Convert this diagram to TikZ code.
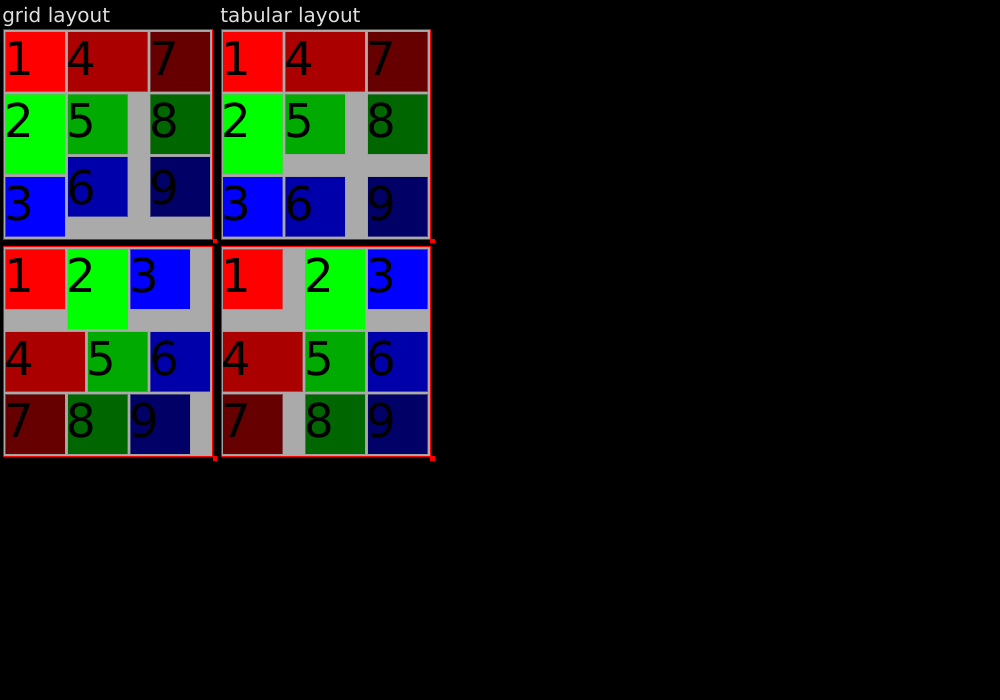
\documentclass[tikz,border=0pt]{standalone}
\usepackage{fontspec}
\setmainfont{DejaVu Sans}
\definecolor{cA}{HTML}{FF0000}
\definecolor{cB}{HTML}{00FF00}
\definecolor{cC}{HTML}{0000FF}
\definecolor{cD}{HTML}{AA0000}
\definecolor{cE}{HTML}{00AA00}
\definecolor{cF}{HTML}{0000AA}
\definecolor{cG}{HTML}{660000}
\definecolor{cH}{HTML}{006600}
\definecolor{cI}{HTML}{000066}
\definecolor{panelgray}{HTML}{AAAAAA}
\definecolor{titlegray}{HTML}{E0E0E0}
\newcommand\mkcell[8]{%
  \path[cellbox, fill=#6] (#2,#3) rectangle (#4,#5);
  \node[digit] (#1) at ({#2-1},{#3+43.6+#8}) {#7};}
\begin{document}
\begin{tikzpicture}[x=0.75pt,y=-0.75pt,
  cellbox/.style={draw=black!40, draw opacity=0.45, line width=0.75pt},
  digit/.style={anchor=base west, inner sep=0pt, font=\fontsize{35}{40}\selectfont, text=black},
  paneltitle/.style={anchor=base west, inner sep=0pt, font=\fontsize{15}{18}\selectfont, text=titlegray},
  panel/.style={draw=red, fill=panelgray, line width=0.75pt},
  handle/.style={fill=red}]
\fill[black] (0,0) rectangle (1000,700);
\useasboundingbox (0,0) rectangle (1000,700);

\node[paneltitle] (t1) at (2,22.5) {grid layout};
\node[paneltitle] (t2) at (220,22.5) {tabular layout};

% panels
\path[panel] (3.5,29.5) rectangle (212,239);
\path[panel] (221,29.5) rectangle (430,239);
\path[panel] (3.5,246.5) rectangle (212,456.5);
\path[panel] (221,246.5) rectangle (430,456.5);

\path[handle] (212.5,238.5) rectangle (217,243);
\path[handle] (430,238.5) rectangle (434.5,243);
\path[handle] (212.5,456) rectangle (217,461);
\path[handle] (430,456) rectangle (434.5,461);

% panel 1: grid layout
\mkcell{a1}{5}{31.5}{65}{91.5}{cA}{1}{0}
\mkcell{a4}{67.5}{31.5}{147.5}{91.5}{cD}{4}{0}
\mkcell{a7}{150}{31.5}{210}{91.5}{cG}{7}{0}
\mkcell{a2}{5}{94}{65}{174}{cB}{2}{0}
\mkcell{a3}{5}{176.5}{65}{236.5}{cC}{3}{0}
\mkcell{a5}{67.5}{94}{127.5}{154}{cE}{5}{0}
\mkcell{a6}{67.5}{156.5}{127.5}{216.5}{cF}{6}{4.5}
\mkcell{a8}{150}{94}{210}{154}{cH}{8}{0}
\mkcell{a9}{150}{156.5}{210}{216.5}{cI}{9}{4.5}

% panel 2: tabular layout
\mkcell{b1}{222.5}{31.5}{282.5}{91.5}{cA}{1}{0}
\mkcell{b4}{285}{31.5}{365}{91.5}{cD}{4}{0}
\mkcell{b7}{367.5}{31.5}{427.5}{91.5}{cG}{7}{0}
\mkcell{b2}{222.5}{94}{282.5}{174}{cB}{2}{0}
\mkcell{b5}{285}{94}{345}{154}{cE}{5}{0}
\mkcell{b8}{367.5}{94}{427.5}{154}{cH}{8}{0}
\mkcell{b3}{222.5}{176.5}{282.5}{236.5}{cC}{3}{0}
\mkcell{b6}{285}{176.5}{345}{236.5}{cF}{6}{0}
\mkcell{b9}{367.5}{176.5}{427.5}{236.5}{cI}{9}{0}

% panel 3
\mkcell{c1}{5}{249}{65}{309}{cA}{1}{0}
\mkcell{c2}{67.5}{249}{127.5}{329}{cB}{2}{0}
\mkcell{c3}{130}{249}{190}{309}{cC}{3}{0}
\mkcell{c4}{5}{331.5}{85}{391.5}{cD}{4}{0}
\mkcell{c5}{87.5}{331.5}{147.5}{391.5}{cE}{5}{0}
\mkcell{c6}{150}{331.5}{210}{391.5}{cF}{6}{0}
\mkcell{c7}{5}{394}{65}{454}{cG}{7}{0}
\mkcell{c8}{67.5}{394}{127.5}{454}{cH}{8}{0}
\mkcell{c9}{130}{394}{190}{454}{cI}{9}{0}

% panel 4
\mkcell{d1}{222.5}{249}{282.5}{309}{cA}{1}{0}
\mkcell{d2}{305}{249}{365}{329}{cB}{2}{0}
\mkcell{d3}{367.5}{249}{427.5}{309}{cC}{3}{0}
\mkcell{d4}{222.5}{331.5}{302.5}{391.5}{cD}{4}{0}
\mkcell{d5}{305}{331.5}{365}{391.5}{cE}{5}{0}
\mkcell{d6}{367.5}{331.5}{427.5}{391.5}{cF}{6}{0}
\mkcell{d7}{222.5}{394}{282.5}{454}{cG}{7}{0}
\mkcell{d8}{305}{394}{365}{454}{cH}{8}{0}
\mkcell{d9}{367.5}{394}{427.5}{454}{cI}{9}{0}
\end{tikzpicture}
\end{document}
